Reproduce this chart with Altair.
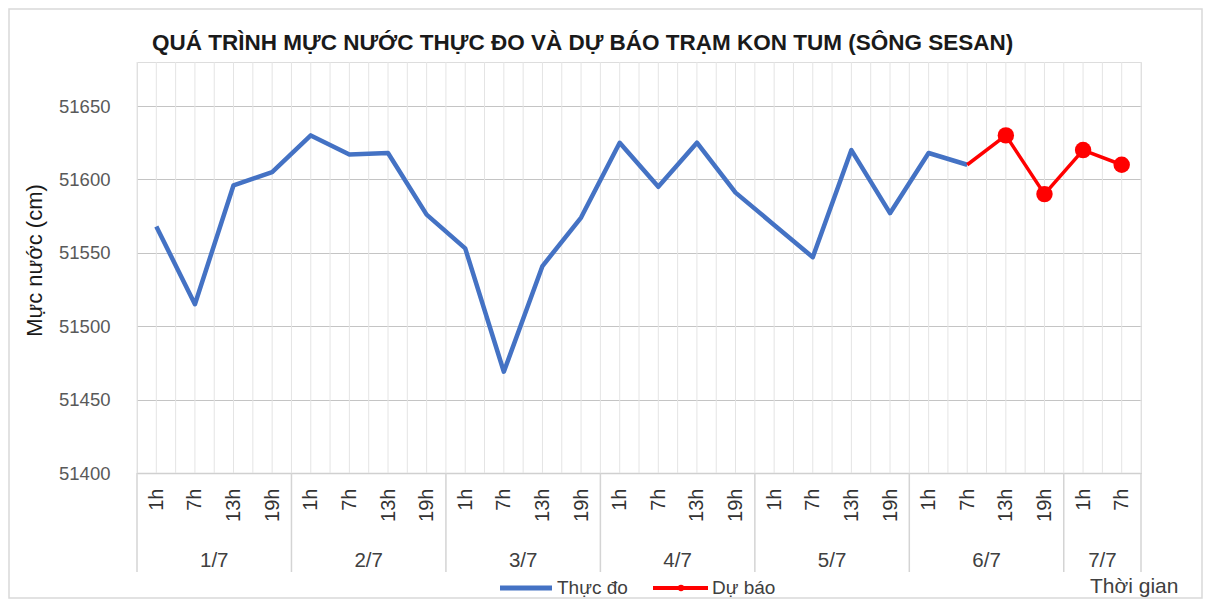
import altair as alt
import pandas as pd

# ---------------- data ----------------
days = ["1/7", "2/7", "3/7", "4/7", "5/7", "6/7", "7/7"]
hours = ["1h", "7h", "13h", "19h"]
n_points = 26

observed = [51568, 51515, 51596, 51605,
            51630, 51617, 51618, 51576,
            51553, 51469, 51541, 51574,
            51625, 51595, 51625, 51591,
            51569, 51547, 51620, 51577,
            51618, 51610]
forecast_start = 21
forecast = [51610, 51630, 51590, 51620, 51610]
forecast_marker = [False, True, True, True, True]

y_ticks = [51400, 51450, 51500, 51550, 51600, 51650]
y_domain = [51400, 51680]

title_text = "QUÁ TRÌNH MỰC NƯỚC THỰC ĐO VÀ DỰ BÁO TRẠM KON TUM (SÔNG SESAN)"
y_title = "Mực nước (cm)"
x_title = "Thời gian"
legend_labels = ["Thực đo", "Dự báo"]

BLUE = "#4472C4"
RED = "#FF0000"
FONT = "Liberation Sans"

W, H = 1004, 411

# ---------------- tables ----------------
obs_df = pd.DataFrame({"i": list(range(len(observed))), "v": observed})
fc_df = pd.DataFrame({
    "i": list(range(forecast_start, forecast_start + len(forecast))),
    "v": forecast,
    "m": forecast_marker,
})
fc_pts = fc_df[fc_df["m"]]

vgrid_df = pd.DataFrame({"p": [k * 0.5 - 0.5 for k in range(2 * n_points + 1)]})
sep_pos = sorted(set([-0.5] + [4 * d - 0.5 for d in range(1, len(days))] + [n_points - 0.5]))
sep_df = pd.DataFrame({"p": sep_pos})
day_centers = []
for d, lab in enumerate(days):
    idx = [i for i in range(n_points) if i // 4 == d]
    day_centers.append(sum(idx) / len(idx))
day_df = pd.DataFrame({"p": day_centers, "t": days})

hour_expr = "[" + ",".join("'" + h + "'" for h in hours) + "][datum.value % 4]"

xscale = alt.Scale(domain=[-0.5, n_points - 0.5], nice=False, zero=False)
yscale = alt.Scale(domain=y_domain, nice=False, zero=False)

xaxis = alt.Axis(
    values=list(range(n_points)), labelExpr=hour_expr, labelAngle=270,
    labelAlign="right", labelBaseline="middle", labelFontSize=20,
    labelColor="#333333", labelPadding=15, ticks=False, grid=False,
    domainColor="#d0d0d0", domainWidth=1.5, title=None, labelFont=FONT,
)
yaxis = alt.Axis(
    values=y_ticks, format="d", grid=True, gridColor="#c4c4c4", gridWidth=1.2,
    domain=False, ticks=False, labelFontSize=18.5, labelColor="#595959",
    labelPadding=27, labelFont=FONT,
    title=y_title, titleFontSize=22, titleFontWeight="normal", titleColor="#1a1a1a",
    titleAngle=270, titleX=-103, titleY=198, titleAlign="center",
    titleBaseline="middle", titleFont=FONT,
)


def X(field):
    return alt.X(field, type="quantitative", scale=xscale, axis=xaxis)


def Y(field):
    return alt.Y(field, type="quantitative", scale=yscale, axis=yaxis)


vgrid = alt.Chart(vgrid_df).mark_rule(color="#e4e4e4", strokeWidth=1).encode(
    x=X("p"), y=alt.value(0), y2=alt.value(H)
)
seps = alt.Chart(sep_df).mark_rule(color="#d4d4d4", strokeWidth=1.5).encode(
    x=X("p"), y=alt.value(H), y2=alt.value(H + 99)
)
day_text = alt.Chart(day_df).mark_text(
    fontSize=20.5, color="#404040", baseline="middle", align="center", font=FONT
).encode(x=X("p"), y=alt.value(499), text="t:N")

obs_line = alt.Chart(obs_df).mark_line(
    color=BLUE, strokeWidth=4.5, strokeJoin="round"
).encode(x=X("i"), y=Y("v"))
fc_line = alt.Chart(fc_df).mark_line(
    color=RED, strokeWidth=3.5, strokeJoin="round"
).encode(x=X("i"), y=Y("v"))
fc_dots = alt.Chart(fc_pts).mark_circle(color=RED, opacity=1, size=270).encode(
    x=X("i"), y=Y("v")
)

# legend (manual)
one = pd.DataFrame({"t": [legend_labels[0]]})
two = pd.DataFrame({"t": [legend_labels[1]]})
leg_blue = alt.Chart(one).mark_rule(color=BLUE, strokeWidth=5).encode(
    x=alt.value(363), x2=alt.value(415), y=alt.value(526)
)
leg_blue_t = alt.Chart(one).mark_text(
    fontSize=19, color="#404040", align="left", baseline="middle", font=FONT
).encode(x=alt.value(420), y=alt.value(526), text="t:N")
leg_red = alt.Chart(two).mark_rule(color=RED, strokeWidth=4).encode(
    x=alt.value(516), x2=alt.value(571), y=alt.value(526)
)
leg_red_dot = alt.Chart(two).mark_circle(color=RED, opacity=1, size=40).encode(
    x=alt.value(544), y=alt.value(526)
)
leg_red_t = alt.Chart(two).mark_text(
    fontSize=19, color="#404040", align="left", baseline="middle", font=FONT
).encode(x=alt.value(575), y=alt.value(526), text="t:N")

xt = pd.DataFrame({"t": [x_title]})
x_title_mark = alt.Chart(xt).mark_text(
    fontSize=21, color="#404040", align="left", baseline="alphabetic", font=FONT
).encode(x=alt.value(953), y=alt.value(531), text="t:N")

tt = pd.DataFrame({"t": [title_text]})
title_mark = alt.Chart(tt).mark_text(
    fontSize=22.5, color="#1a1a1a", align="left", baseline="alphabetic",
    font=FONT, fontWeight="bold"
).encode(x=alt.value(15), y=alt.value(-12), text="t:N")

border = alt.Chart(xt).mark_rect(
    fillOpacity=0, stroke="#d9d9d9", strokeWidth=1.5
).encode(x=alt.value(-128), x2=alt.value(1065), y=alt.value(-53), y2=alt.value(536))

chart = alt.layer(
    border, vgrid, seps, day_text, obs_line, fc_line, fc_dots,
    leg_blue, leg_blue_t, leg_red, leg_red_dot, leg_red_t, x_title_mark, title_mark,
).properties(
    width=W, height=H,
    padding={"left": 129, "top": 54, "right": 62, "bottom": 126},
    autosize=alt.AutoSizeParams(type="none"),
).configure_view(stroke=None).configure(background="white")

chart.save("out.html", embed_options={"renderer": "svg", "actions": False})
